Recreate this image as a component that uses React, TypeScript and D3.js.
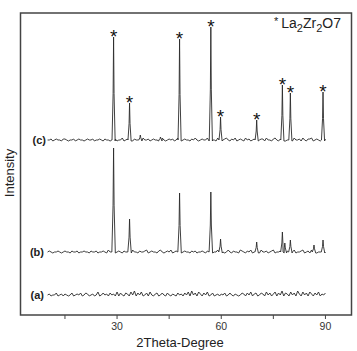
import React, { useEffect, useRef } from "react";
import * as d3 from "d3";

// 2theta range of the recorded scans
const scanStart = 10;
const scanEnd = 90;

// La2Zr2O7 reflections (2theta) and peak intensities, pattern (c)
const peaksC = [29.0, 33.6, 48.0, 57.0, 59.8, 70.2, 77.6, 79.9, 89.3];
const heightsC = [103, 37, 101, 113, 23, 20, 55, 47, 48];
const minorPeaksC = [36.7, 42.5];
const minorHeightsC = [5, 3];

// pattern (b)
const peaksB = [29.0, 33.6, 48.0, 57.0, 59.8, 70.2, 77.6, 78.3, 79.9, 86.7, 89.3];
const heightsB = [104, 33, 59, 60, 13, 10, 20, 9, 12, 7, 12];

// pattern (a) is amorphous, only noise
const peaksA: number[] = [];
const heightsA: number[] = [];

// baseline noise (every 0.5 deg)
const noiseC = [
  0, 0, 1, -1, 0, 1, 0, 0, -1, 1, 1, 0, -1, 0, 0, 1, -1, 0, 1, 0,
  0, -1, 0, 1, 0, 0, 1, -1, 0, 0, 1, 0, -1, 1, 0, 0, -1, 0, 1, 1,
  -1, 0, 0, 2, -1, 0, 1, 0, 0, -1, 1, 0, 0, 1, -1, 2, 0, 0, 1, -1,
  0, 1, 0, 0, -1, 1, 2, 0, -1, 0, 1, 0, 1, -1, 0, 2, 1, -1, 0, 1,
  0, 0, -1, 1, 0, 2, 0, -1, 0, 1, 0, 0, 2, -1, 1, 0, 0, -1, 2, 1,
  -1, 0, 1, 2, 0, -1, 1, 0, 2, -1, 0, 1, 0, -1, 2, 0, 1, -1, 0, 1,
  2, -1, 0, 1, 1, -1, 2, 0, 0, -1, 1, 2, 0, -1, 1, 0, 2, -1, 0, 1,
  1, -1, 2, 0, 0, 1, -1, 2, 0, -1, 1, 1, 2, -1, 0, 1, 0, -1, 2, 0,
  1,
];
const noiseB = [
  0, 1, 0, -1, 0, 0, 1, 0, -1, 0, 1, 0, 0, -1, 1, 0, 0, 1, -1, 0,
  0, 1, 0, 0, -1, 1, 0, 0, 1, -1, 0, 0, 1, 0, -1, 2, 0, 0, 1, -1,
  0, 1, 0, -1, 1, 0, 0, 1, -1, 2, 0, 0, -1, 1, 0, 0, 1, 2, -1, 0,
  1, 0, 0, -1, 1, 2, 0, -1, 0, 1, 0, 2, -1, 0, 1, 0, 1, -1, 0, 1,
  0, 0, -1, 1, 0, 1, -1, 0, 0, 1, 0, -1, 1, 0, 1, -1, 0, 0, 2, -1,
  1, 0, -1, 0, 2, 0, -1, 1, 0, 0, -1, 2, 1, 0, -1, 1, 0, 2, -1, 0,
  0, 1, -1, 2, 0, 0, 1, -1, 0, 1, 2, -1, 0, 0, 1, -1, 0, 2, 1, -1,
  1, 0, 2, -1, 0, 0, 1, 2, -1, 0, 1, -1, 2, 0, 1, -1, 0, 0, 2, 1,
  0,
];
const noiseA = [
  0, 1, -1, 0, 0, 2, -1, 0, 1, -1, 1, 0, -1, 0, 2, -1, 0, 1, 0, 2,
  -1, 0, 2, 1, -1, 0, 1, -1, 0, 3, -1, 0, 2, 0, 1, -1, 2, 0, 1, -1,
  3, -1, 2, 0, -1, 2, 1, -1, 3, 0, 4, -1, 2, 0, 3, -1, 0, 2, -1, 3,
  0, -1, 1, 2, -1, 0, 2, 0, -1, 2, 0, -1, 1, 0, -1, 2, 0, 1, -1, 2,
  0, 3, -1, 4, 0, 2, -1, 3, 1, -1, 2, 0, 3, -1, 0, 2, -1, 0, 1, -1,
  1, 0, 2, -1, 0, 2, 0, -1, 1, 0, -1, 0, 2, 1, -1, 2, 0, 3, -1, 1,
  2, -1, 0, 2, 1, -1, 3, 0, 2, -1, 1, 3, -1, 2, 0, 4, -1, 2, 1, -1,
  3, 0, 2, -1, 4, 1, -1, 3, 0, 2, -1, 3, 1, -1, 2, 0, 3, -1, 1, 0,
  2,
];

// vertical offset (stacking) of each pattern
const labels = ["(a)", "(b)", "(c)"];
const offsets = [20, 63, 175];

const xTicks = [15, 30, 45, 60, 75, 90];
const xTickLabels = [30, 60, 90];

const font = "'Liberation Sans', Arial, Helvetica, sans-serif";

const App = () => {
  const chartRef = useRef<HTMLDivElement>(null);

  useEffect(() => {
    const width = 357;
    const height = 351;
    const frame = { left: 20.5, right: 351.5, top: 13, bottom: 315 };

    let root = d3.select(chartRef.current).select("svg");
    if (!root.empty()) root.remove();

    const svg = d3
      .select(chartRef.current)
      .append("svg")
      .attr("width", width)
      .attr("height", height)
      .style("position", "absolute")
      .style("left", 0)
      .style("top", 0)
      .style("background", "#fff");

    const x = d3.scaleLinear().domain([2.2, 97.5]).range([frame.left, frame.right]);
    const y = d3.scaleLinear().domain([0, 302]).range([frame.bottom, frame.top]);

    // builds points of one trace from noise + triangular peaks
    const buildTrace = (
      noise: number[],
      pos: number[],
      hts: number[],
      base: number,
      halfWidth: number
    ) => {
      const step = (scanEnd - scanStart) / (noise.length - 1);
      const pts: [number, number][] = [];
      noise.forEach((n, i) => {
        const t = scanStart + i * step;
        if (pos.some((p) => Math.abs(p - t) < halfWidth + 0.05)) return;
        pts.push([t, base + n]);
      });
      pos.forEach((p, i) => {
        pts.push([p - halfWidth, base]);
        pts.push([p - halfWidth * 0.3, base + hts[i] * 0.45]);
        pts.push([p, base + hts[i]]);
        pts.push([p + halfWidth * 0.3, base + hts[i] * 0.45]);
        pts.push([p + halfWidth, base - 1]);
      });
      return pts.sort((a, b) => a[0] - b[0]);
    };

    const line = d3
      .line<[number, number]>()
      .x((d) => x(d[0]))
      .y((d) => y(d[1]));

    const traces = [
      buildTrace(noiseA, peaksA, heightsA, offsets[0], 0.45),
      buildTrace(noiseB, peaksB, heightsB, offsets[1], 0.5),
      buildTrace(
        noiseC,
        [...peaksC, ...minorPeaksC],
        [...heightsC, ...minorHeightsC],
        offsets[2],
        0.45
      ),
    ];

    svg
      .selectAll(".trace")
      .data(traces)
      .enter()
      .append("path")
      .attr("class", "trace")
      .attr("d", (d) => line(d))
      .style("fill", "none")
      .style("stroke", "#2a2a2a")
      .style("stroke-width", 0.9)
      .style("stroke-linejoin", "round");

    // pattern labels
    svg
      .selectAll(".patLabel")
      .data(labels)
      .enter()
      .append("text")
      .attr("class", "patLabel")
      .attr("x", (d, i) => (i === 2 ? 46 : 44))
      .attr("y", (d, i) => y(offsets[i]) + 4)
      .attr("text-anchor", "end")
      .style("font-family", font)
      .style("font-weight", "bold")
      .style("font-size", "11px")
      .style("fill", "#222")
      .text((d) => d);

    // stars above La2Zr2O7 reflections
    svg
      .selectAll(".star")
      .data(peaksC)
      .enter()
      .append("text")
      .attr("class", "star")
      .attr("x", (d) => x(d))
      .attr("y", (d, i) => y(offsets[2] + heightsC[i]) + 5.5)
      .attr("text-anchor", "middle")
      .style("font-family", font)
      .style("font-size", "19px")
      .style("fill", "#111")
      .text("*");

    // frame
    svg
      .append("rect")
      .attr("x", frame.left)
      .attr("y", frame.top)
      .attr("width", frame.right - frame.left)
      .attr("height", frame.bottom - frame.top)
      .style("fill", "none")
      .style("stroke", "#444")
      .style("stroke-width", 1.5);

    // x ticks
    svg
      .selectAll(".tick")
      .data(xTicks)
      .enter()
      .append("line")
      .attr("x1", (d) => x(d))
      .attr("x2", (d) => x(d))
      .attr("y1", frame.bottom)
      .attr("y2", frame.bottom + 4)
      .style("stroke", "#444")
      .style("stroke-width", 1);

    svg
      .selectAll(".tickLabel")
      .data(xTickLabels)
      .enter()
      .append("text")
      .attr("x", (d) => x(d))
      .attr("y", 330)
      .attr("text-anchor", "middle")
      .style("font-family", font)
      .style("font-size", "10.5px")
      .style("fill", "#333")
      .text((d) => d);

    svg
      .append("text")
      .attr("x", 180)
      .attr("y", 346.5)
      .attr("text-anchor", "middle")
      .style("font-family", font)
      .style("font-size", "13px")
      .style("fill", "#222")
      .text("2Theta-Degree");

    svg
      .append("text")
      .attr("transform", "translate(13.5,173) rotate(-90)")
      .attr("text-anchor", "middle")
      .style("font-family", font)
      .style("font-size", "13px")
      .style("fill", "#222")
      .text("Intensity");

    // legend: * La2Zr2O7
    const legend = svg
      .append("text")
      .attr("x", 274)
      .attr("y", 28)
      .style("font-family", font)
      .style("font-size", "14px")
      .style("fill", "#222");
    legend.append("tspan").style("font-size", "11px").attr("dy", -3).text("*");
    legend.append("tspan").attr("dx", 3).attr("dy", 3).text("La");
    legend.append("tspan").style("font-size", "11px").attr("dy", 4).text("2");
    legend.append("tspan").attr("dy", -4).text("Zr");
    legend.append("tspan").style("font-size", "11px").attr("dy", 4).text("2");
    legend.append("tspan").attr("dy", -4).text("O7");
  }, []);

  return <div id="chart" ref={chartRef}></div>;
};

export default App;
